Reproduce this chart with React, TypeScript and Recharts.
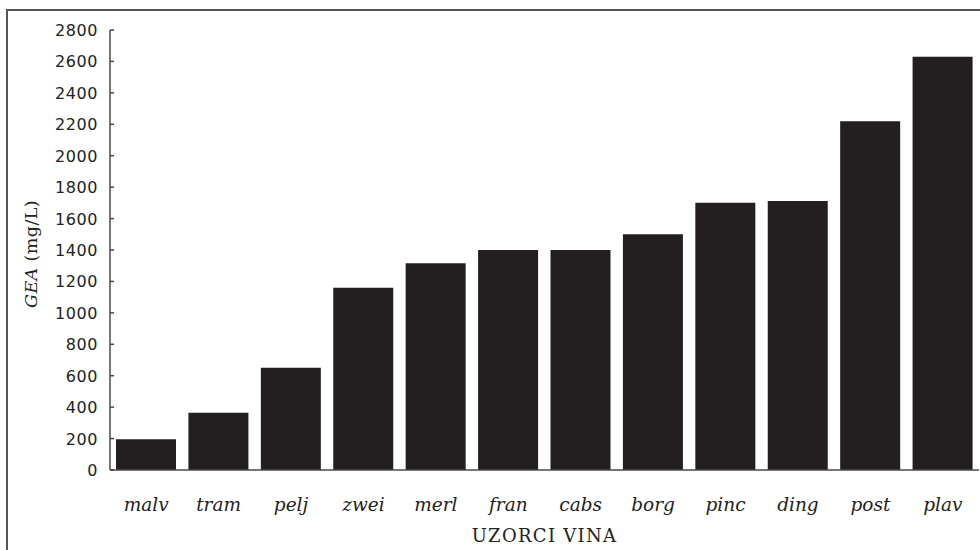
import React from 'react';
import { BarChart, Bar, XAxis, YAxis, Label } from 'recharts';

// wine samples and their GEA values (mg/L)
const samples = ['malv', 'tram', 'pelj', 'zwei', 'merl', 'fran', 'cabs', 'borg', 'pinc', 'ding', 'post', 'plav'];
const geaValues = [195, 365, 650, 1160, 1315, 1400, 1400, 1500, 1700, 1712, 2220, 2630];
const yTicks = [0, 200, 400, 600, 800, 1000, 1200, 1400, 1600, 1800, 2000, 2200, 2400, 2600, 2800];

const data = samples.map((s, i) => ({ sample: s, gea: geaValues[i] }));

const AXIS_COLOR = '#4a4a4a';
const TEXT_COLOR = '#222';
const BAR_COLOR = '#231f20';
const Y_TICK_MARGIN = 12;

const YTick = (props: any) => {
  const { x, y, payload } = props;
  return (
    <g>
      <line
        x1={x + Y_TICK_MARGIN}
        x2={x + Y_TICK_MARGIN + 4}
        y1={y}
        y2={y}
        stroke={AXIS_COLOR}
        strokeWidth={1.5}
      />
      <text
        x={x}
        y={y}
        dy={6}
        textAnchor="end"
        fill={TEXT_COLOR}
        fontFamily="DejaVu Sans, sans-serif"
        fontSize={16}
        letterSpacing={0.6}
      >
        {payload.value}
      </text>
    </g>
  );
};

const XTick = (props: any) => {
  const { x, y, payload } = props;
  return (
    <text
      x={x}
      y={y + 33}
      textAnchor="middle"
      fill={TEXT_COLOR}
      fontFamily="DejaVu Serif, serif"
      fontStyle="italic"
      fontSize={18.5}
    >
      {payload.value}
    </text>
  );
};

const YLabel = (props: any) => {
  const { viewBox } = props;
  const cx = 37;
  const cy = viewBox.y + viewBox.height / 2 + 4;
  return (
    <text
      x={cx}
      y={cy}
      transform={`rotate(-90, ${cx}, ${cy})`}
      textAnchor="middle"
      fill={TEXT_COLOR}
      fontFamily="DejaVu Serif, serif"
      fontSize={17.5}
      letterSpacing={0.4}
    >
      <tspan fontStyle="italic">GEA</tspan>
      <tspan> (mg/L)</tspan>
    </text>
  );
};

const XLabel = (props: any) => {
  const { viewBox } = props;
  const cx = viewBox.x + viewBox.width / 2;
  return (
    <text
      x={cx}
      y={542}
      textAnchor="middle"
      fill={TEXT_COLOR}
      fontFamily="DejaVu Serif, serif"
      fontSize={18}
      letterSpacing={1.3}
    >
      UZORCI VINA
    </text>
  );
};

export default function App() {
  return (
    <div
      style={{
        position: 'absolute',
        left: 0,
        top: 0,
        width: 980,
        height: 550,
        overflow: 'hidden',
        background: '#fff',
      }}
    >
      {/* outer frame, right and bottom edges fall outside the picture */}
      <div
        style={{
          position: 'absolute',
          left: 6,
          top: 9,
          width: 1100,
          height: 700,
          border: '2px solid #555',
          boxSizing: 'border-box',
        }}
      />
      <div style={{ position: 'absolute', left: 0, top: 0 }}>
        <BarChart
          width={980}
          height={550}
          data={data}
          margin={{ top: 30, right: 1, bottom: 0, left: 0 }}
        >
          <XAxis
            dataKey="sample"
            height={80}
            tickLine={false}
            axisLine={{ stroke: AXIS_COLOR, strokeWidth: 1.5 }}
            tick={<XTick />}
            interval={0}
          >
            <Label content={<XLabel />} />
          </XAxis>
          <YAxis
            width={110}
            domain={[0, 2800]}
            ticks={yTicks}
            interval={0}
            tickSize={0}
            tickMargin={Y_TICK_MARGIN}
            axisLine={{ stroke: AXIS_COLOR, strokeWidth: 1.5 }}
            tick={<YTick />}
          >
            <Label content={<YLabel />} />
          </YAxis>
          <Bar dataKey="gea" fill={BAR_COLOR} barSize={60} isAnimationActive={false} />
        </BarChart>
      </div>
    </div>
  );
}
